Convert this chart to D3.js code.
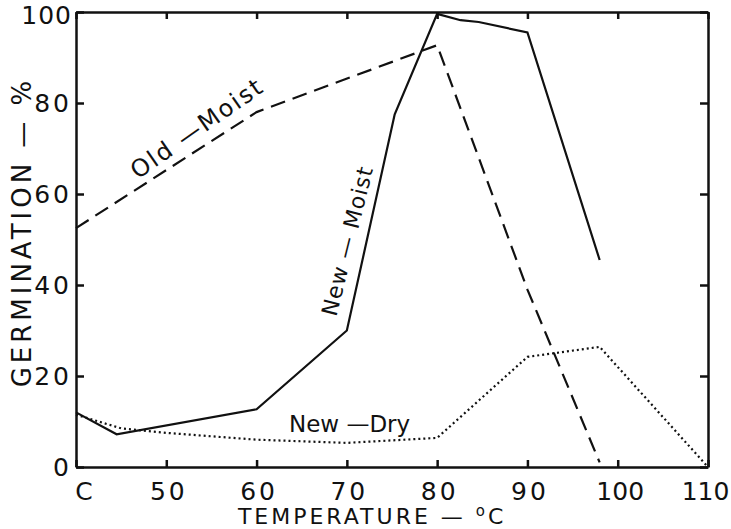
<!DOCTYPE html>
<html>
  <head>
    <meta http-equiv="Content-Type" content="text/html;charset=utf-8">
    <title>Germination vs temperature</title>
    <script type="text/javascript" src="https://d3js.org/d3.v7.min.js"></script>
    <style>
      html, body { margin: 0; padding: 0; background: #fff; }
      text { font-family: "DejaVu Sans", sans-serif; fill: #111; }
      .axis path, .axis line { fill: none; stroke: #111; stroke-width: 2.5px; }
      .axis text { font-size: 25px; letter-spacing: 3px; }
      path.series { fill: none; stroke: #111; stroke-width: 2.2px; }
    </style>
  </head>
  <body>
<script type="text/javascript">

// temperature (deg C) and germination (%)
var newMoistT = [40, 44.5, 60, 70, 75.3, 80, 82.6, 84.6, 90, 98];
var newMoistV = [12, 7.2, 12.7, 30, 77.5, 99.6, 98.2, 97.8, 95.5, 45.5];

var oldMoistT = [40, 60, 80, 90, 98];
var oldMoistV = [52.5, 78, 92.7, 39, 1];

var newDryT = [40, 45, 50, 60, 70, 80, 90, 98, 110];
var newDryV = [11.5, 8.5, 7.5, 6, 5.3, 6.4, 24.2, 26.4, 0];

var xTicks = [40, 50, 60, 70, 80, 90, 100, 110];
var xTickLabels = ["C", "50", "60", "70", "80", "90", "100", "110"];
var yTicks = [0, 20, 40, 60, 80, 100];

var width = 731, height = 529;
var margin = {left: 76, right: 23, top: 12, bottom: 62};

var x = d3.scaleLinear().domain([40, 110]).range([margin.left, width - margin.right]);
var y = d3.scaleLinear().domain([0, 100]).range([height - margin.bottom, margin.top]);

var svg = d3.select("body").append("svg")
    .attr("width", width).attr("height", height);

function pts(ts, vs) { return ts.map(function(t, i) { return [t, vs[i]]; }); }

var line = d3.line()
    .x(function(d) { return x(d[0]); })
    .y(function(d) { return y(d[1]); });

// axes: ticks point inward on all four sides
svg.append("g").attr("class", "axis x")
    .attr("transform", "translate(0," + y(0) + ")")
    .call(d3.axisBottom(x).tickValues(xTicks).tickSize(-7).tickSizeOuter(0).tickPadding(15)
        .tickFormat(function(d, i) { return xTickLabels[i]; }));

svg.append("g").attr("class", "axis top")
    .attr("transform", "translate(0," + y(100) + ")")
    .call(d3.axisTop(x).tickValues(xTicks).tickSize(-7).tickSizeOuter(0).tickFormat(""));

svg.append("g").attr("class", "axis y")
    .attr("transform", "translate(" + x(40) + ",0)")
    .call(d3.axisLeft(y).tickValues(yTicks).tickSize(-8).tickSizeOuter(0).tickPadding(4));

svg.append("g").attr("class", "axis right")
    .attr("transform", "translate(" + x(110) + ",0)")
    .call(d3.axisRight(y).tickValues(yTicks).tickSize(-8).tickSizeOuter(0).tickFormat(""));

// x labels: "C" sits just right of the axis, the last ones are tighter
svg.select(".axis.x").selectAll(".tick text")
    .attr("dx", function(d) { return d === 40 ? 9 : (d === 110 ? -3 : 2); })
    .style("letter-spacing", function(d) { return d >= 100 ? "0px" : null; });

// "100" sits a little lower so it stays inside the picture
svg.select(".axis.y").selectAll(".tick text")
    .attr("y", function(d) { return d === 100 ? 3 : null; })
    .style("letter-spacing", function(d) { return d === 100 ? "1px" : null; });

// series
svg.append("path").attr("class", "series")
    .attr("d", line(pts(newMoistT, newMoistV)));

svg.append("path").attr("class", "series")
    .style("stroke-dasharray", "15,8")
    .attr("d", line(pts(oldMoistT, oldMoistV)));

svg.append("path").attr("class", "series")
    .style("stroke-dasharray", "2,3")
    .style("stroke-width", "2.2px")
    .attr("d", line(pts(newDryT, newDryV)));

// curve labels
svg.append("text")
    .attr("transform", "translate(" + x(53.4) + "," + y(74.5) + ") rotate(-35)")
    .attr("text-anchor", "middle").attr("dy", "0.35em")
    .style("font-size", "24px").style("letter-spacing", "2px")
    .text("Old \u2014Moist");

svg.append("text")
    .attr("transform", "translate(" + x(70.05) + "," + y(49.7) + ") rotate(-76)")
    .attr("text-anchor", "middle").attr("dy", "0.35em")
    .style("font-size", "22px").style("letter-spacing", "1px")
    .text("New \u2014 Moist");

svg.append("text")
    .attr("x", x(70.3)).attr("y", y(7.7))
    .attr("text-anchor", "middle")
    .style("font-size", "23px")
    .text("New \u2014Dry");

// axis titles
var xt = svg.append("text")
    .attr("x", x(72.8)).attr("y", 524)
    .attr("text-anchor", "middle")
    .style("font-size", "22px").style("letter-spacing", "3px");
xt.append("tspan").text("TEMPERATURE \u2014 ");
xt.append("tspan").attr("dy", -8).style("font-size", "15px").text("o");
xt.append("tspan").attr("dy", 8).text("C");

svg.append("text")
    .attr("transform", "translate(31," + 232 + ") rotate(-90)")
    .attr("text-anchor", "middle")
    .style("font-size", "26px").style("letter-spacing", "4px")
    .text("GERMINATION \u2014 %");

</script>
  </body>
</html>
